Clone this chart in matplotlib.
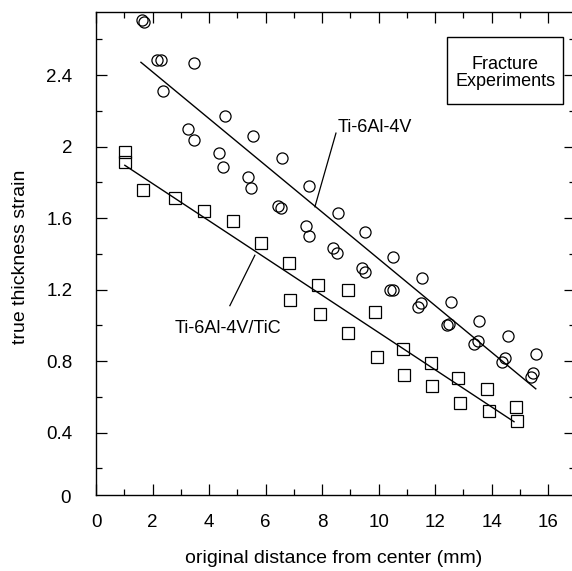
import matplotlib
matplotlib.use("Agg")
import matplotlib.pyplot as plt
from matplotlib.patches import Rectangle
from matplotlib.ticker import MultipleLocator

plt.rcParams['font.family'] = ['Liberation Sans', 'DejaVu Sans']

# Ti-6Al-4V (circles)
ti_x = [1.61, 1.69, 2.16, 2.29, 3.47, 2.38, 4.56, 3.26, 3.47, 5.56,
        4.35, 4.50, 5.37, 5.50, 6.57, 7.54, 6.43, 6.54, 7.43, 7.54,
        8.57, 9.52, 8.39, 8.51, 10.52, 9.40, 9.52, 10.40, 10.52, 11.53,
        12.57, 11.40, 11.50, 13.56, 12.41, 12.49, 14.57, 13.38, 13.50, 15.56,
        14.37, 14.47, 15.38, 15.47]
ti_y = [2.707, 2.698, 2.484, 2.484, 2.467, 2.312, 2.172, 2.098, 2.036, 2.058,
        1.965, 1.887, 1.830, 1.770, 1.936, 1.781, 1.669, 1.654, 1.557, 1.502,
        1.630, 1.520, 1.431, 1.405, 1.382, 1.323, 1.296, 1.198, 1.195, 1.263,
        1.128, 1.104, 1.127, 1.024, 1.002, 1.006, 0.940, 0.894, 0.914, 0.838,
        0.793, 0.820, 0.713, 0.735]

# Ti-6Al-4V/TiC (squares)
tic_x = [1.02, 1.02, 1.67, 2.80, 3.83, 4.84, 5.83, 6.84, 6.86, 7.86,
         7.94, 8.90, 8.92, 9.86, 9.93, 10.85, 10.90, 11.85, 11.90, 12.82,
         12.89, 13.83, 13.89, 14.85, 14.89]
tic_y = [1.971, 1.911, 1.757, 1.710, 1.641, 1.583, 1.460, 1.347, 1.143, 1.226,
         1.061, 1.198, 0.957, 1.076, 0.821, 0.867, 0.721, 0.789, 0.661, 0.706,
         0.568, 0.642, 0.521, 0.545, 0.465]

# fitted lines (endpoints)
ti_fit_x = [1.59, 15.56]
ti_fit_y = [2.471, 0.645]
tic_fit_x = [1.02, 14.79]
tic_fit_y = [1.895, 0.461]

# leader lines for labels
ti_lead_x = [8.49, 7.745]
ti_lead_y = [2.075, 1.663]
tic_lead_x = [4.736, 5.62]
tic_lead_y = [1.110, 1.392]

xticks = [0, 2, 4, 6, 8, 10, 12, 14, 16]
yticks = [0.4, 0.8, 1.2, 1.6, 2.0, 2.4]
ytick_labels = ['0.4', '0.8', '1.2', '1.6', '2', '2.4']

fig = plt.figure(figsize=(5.72, 5.71), dpi=100)
ax = fig.add_axes([96 / 572, 76.5 / 571, 478.5 / 572, 482.8 / 571])

ax.plot(ti_x, ti_y, linestyle='none', marker='o', markersize=8,
        markerfacecolor='none', markeredgecolor='black', markeredgewidth=0.9)
ax.plot(tic_x, tic_y, linestyle='none', marker='s', markersize=8.3,
        markerfacecolor='none', markeredgecolor='black', markeredgewidth=0.9)
ax.plot(ti_fit_x, ti_fit_y, color='black', linewidth=1.0)
ax.plot(tic_fit_x, tic_fit_y, color='black', linewidth=1.0)
ax.plot(ti_lead_x, ti_lead_y, color='black', linewidth=0.9)
ax.plot(tic_lead_x, tic_lead_y, color='black', linewidth=0.9)

ax.text(8.56, 2.109, 'Ti-6Al-4V', fontsize=13, ha='left', va='center')
ax.text(4.68, 0.982, 'Ti-6Al-4V/TiC', fontsize=13, ha='center', va='center')

ax.add_patch(Rectangle((0.733, 0.809), 0.243, 0.139, transform=ax.transAxes,
                       fill=False, edgecolor='black', linewidth=1.0, zorder=3))
ax.text(0.855, 0.873, 'Fracture\nExperiments', transform=ax.transAxes,
        fontsize=13, ha='center', va='center', linespacing=1.0)

ax.set_xlim(0, 16.93)
ax.set_ylim(0.054, 2.754)
ax.set_xticks(xticks)
ax.set_yticks(yticks)
ax.set_yticklabels(ytick_labels)
ax.xaxis.set_minor_locator(MultipleLocator(1))
ax.yaxis.set_minor_locator(MultipleLocator(0.2))
ax.tick_params(which='both', direction='in', top=True, right=True,
               labelsize=13.5, width=0.9)
ax.tick_params(which='major', length=8)
ax.tick_params(which='minor', length=4)
ax.tick_params(axis='y', which='major', pad=17)
ax.tick_params(axis='x', which='major', pad=14)

# y tick label "0" sits just below the drawn axis line
ax.text(-0.052, -0.008, '0', transform=ax.transAxes,
        fontsize=13.5, ha='right', va='center')

ax.set_xlabel('original distance from center (mm)', fontsize=14)
ax.xaxis.label.set_va('center')
ax.xaxis.set_label_coords(0.497, -0.1335)
ax.set_ylabel('true thickness strain', fontsize=14)
ax.yaxis.label.set_va('center')
ax.yaxis.set_label_coords(-0.158, 0.492)

for s in ax.spines.values():
    s.set_linewidth(1.0)

fig.savefig('out.png', dpi=100)
